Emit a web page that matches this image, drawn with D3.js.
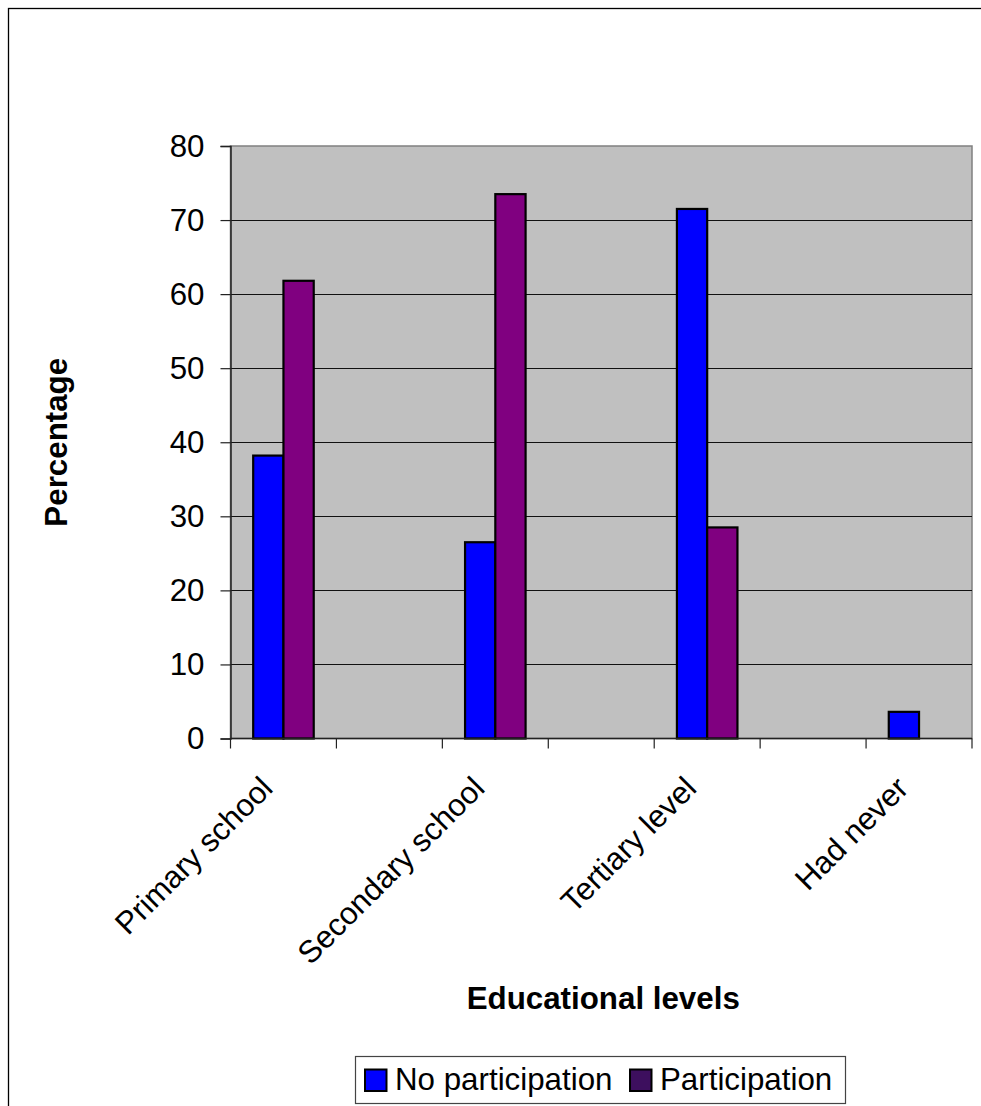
<!DOCTYPE html>
<html>
<head>
<meta charset="utf-8">
<script src="https://cdn.jsdelivr.net/npm/d3@7"></script>
<style>
  html, body { margin: 0; padding: 0; background: #fff; }
  svg { display: block; }
  text { font-family: "Liberation Sans", Arial, sans-serif; fill: #000; }
</style>
</head>
<body>
<div id="chart"></div>
<script>
const categories = ["Primary school", "", "Secondary school", "", "Tertiary level", "", "Had never"];
const seriesNames = ["No participation", "Participation"];
const noParticipation = [38.2, null, 26.5, null, 71.5, null, 3.6];
const participation = [61.8, null, 73.5, null, 28.5, null, 0];
const yTicks = [0, 10, 20, 30, 40, 50, 60, 70, 80];
const seriesColors = ["#0000FF", "#800080"];
const legendColors = ["#0000FF", "#3d0f5e"];

const W = 981, H = 1106;
const plot = { left: 230.5, right: 972, top: 146, bottom: 738.5 };
const FS = 31.3;

const svg = d3.select("#chart").append("svg").attr("width", W).attr("height", H);

// outer chart frame (extends beyond the viewport on the right and bottom)
svg.append("rect").attr("x", 8.5).attr("y", 8.5).attr("width", 1200).attr("height", 1200)
  .attr("fill", "#fff").attr("stroke", "#000").attr("stroke-width", 1.3);

const x = d3.scaleBand().domain(d3.range(categories.length)).range([plot.left, plot.right]).padding(0);
const bw = x.bandwidth();
const xs = d3.scaleBand().domain(seriesNames).range([bw * 0.75 / 3.5, bw * 2.75 / 3.5]).padding(0);
const y = d3.scaleLinear().domain([0, 80]).range([plot.bottom, plot.top]);

// plot background
svg.append("rect").attr("x", plot.left).attr("y", plot.top)
  .attr("width", plot.right - plot.left).attr("height", plot.bottom - plot.top)
  .attr("fill", "#C0C0C0").attr("stroke", "#808080").attr("stroke-width", 1.5);

// gridlines
svg.append("g").selectAll("line").data(yTicks.filter(d => d > 0 && d < 80)).join("line")
  .attr("x1", plot.left).attr("x2", plot.right)
  .attr("y1", d => Math.round(y(d)) + 0.5).attr("y2", d => Math.round(y(d)) + 0.5)
  .attr("stroke", "#111").attr("stroke-width", 1);

// bars
const rows = categories.map((c, i) => ({ i, vals: [noParticipation[i], participation[i]] }));
const gBars = svg.append("g");
rows.forEach(r => {
  r.vals.forEach((v, k) => {
    if (v == null || v === 0) return;
    gBars.append("rect")
      .attr("x", x(r.i) + xs(seriesNames[k]))
      .attr("y", y(v))
      .attr("width", xs.bandwidth())
      .attr("height", y(0) - y(v))
      .attr("fill", seriesColors[k])
      .attr("stroke", "#000").attr("stroke-width", 2.2);
  });
});

// y axis
const yAxis = d3.axisLeft(y).tickValues(yTicks).tickSize(10).tickPadding(16).tickFormat(d3.format("d"));
const gy = svg.append("g").attr("transform", `translate(${plot.left},0)`).call(yAxis);
gy.select(".domain").attr("stroke", "#222").attr("stroke-width", 1.5);
gy.selectAll(".tick line").attr("stroke", "#222").attr("stroke-width", 1.2);
gy.selectAll(".tick text").style("font-size", FS + "px").attr("font-family", "Liberation Sans, Arial, sans-serif").attr("fill", "#000");

// x axis: ticks at category boundaries
const boundaries = d3.range(categories.length + 1).map(i => i < categories.length ? x(i) : plot.right);
svg.append("line").attr("x1", plot.left).attr("x2", plot.right)
  .attr("y1", plot.bottom).attr("y2", plot.bottom).attr("stroke", "#222").attr("stroke-width", 1.5);
svg.append("g").selectAll("line").data(boundaries).join("line")
  .attr("x1", d => d).attr("x2", d => d)
  .attr("y1", plot.bottom).attr("y2", plot.bottom + 10)
  .attr("stroke", "#222").attr("stroke-width", 1.2);

// x labels (rotated)
svg.append("g").selectAll("text").data(categories.map((c, i) => ({ c, i })).filter(d => d.c !== "")).join("text")
  .attr("transform", d => `translate(${x(d.i) + bw / 2 - 9},${plot.bottom + 51.5}) rotate(-45)`)
  .attr("text-anchor", "end")
  .style("font-size", FS + "px")
  .text(d => d.c);

// axis titles
svg.append("text")
  .attr("transform", `translate(67,${(plot.top + plot.bottom) / 2}) rotate(-90)`)
  .attr("text-anchor", "middle")
  .style("font-size", FS + "px").style("font-weight", "bold")
  .text("Percentage");

svg.append("text")
  .attr("x", (plot.left + plot.right) / 2 + 2).attr("y", 1009)
  .attr("text-anchor", "middle")
  .style("font-size", FS + "px").style("font-weight", "bold")
  .text("Educational levels");

// legend
const lg = svg.append("g");
lg.append("rect").attr("x", 355.5).attr("y", 1056.5).attr("width", 490).attr("height", 47)
  .attr("fill", "#fff").attr("stroke", "#444").attr("stroke-width", 1.2);
const legendX = [365, 630];
seriesNames.forEach((s, k) => {
  lg.append("rect").attr("x", legendX[k]).attr("y", 1069.5).attr("width", 21.5).attr("height", 21.5)
    .attr("fill", legendColors[k]).attr("stroke", "#000").attr("stroke-width", 2);
  lg.append("text").attr("x", legendX[k] + 30).attr("y", 1090)
    .style("font-size", FS + "px").text(s);
});
</script>
</body>
</html>
